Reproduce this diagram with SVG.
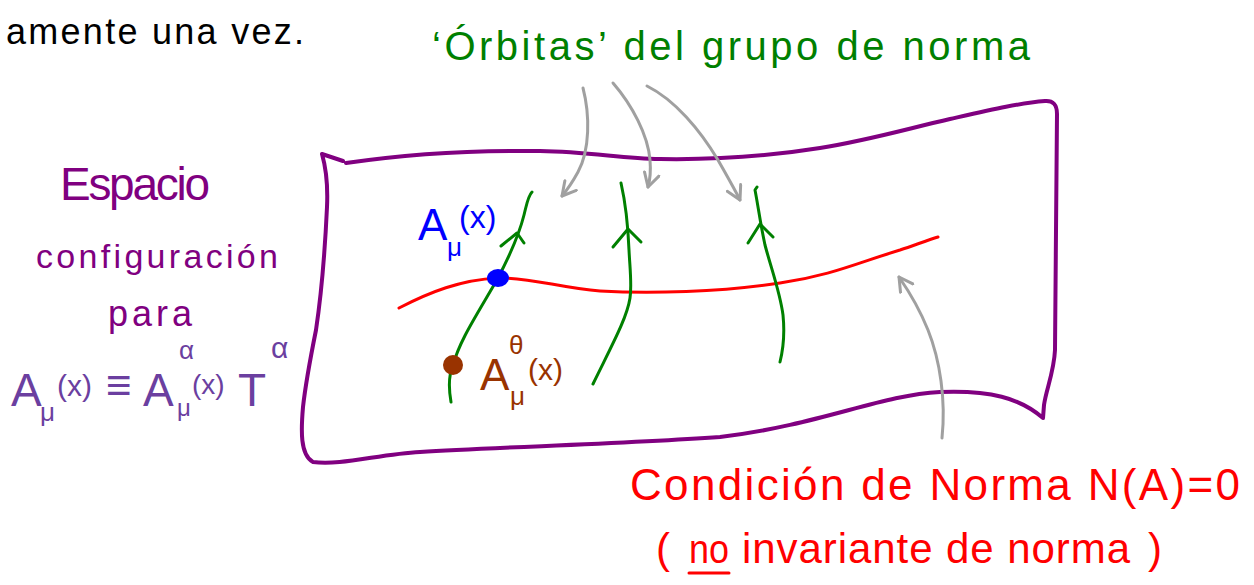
<svg xmlns="http://www.w3.org/2000/svg" width="1254" height="585" viewBox="0 0 1254 585">
<style>
text{font-family:"Liberation Sans","DejaVu Sans",sans-serif;}
.pur{fill:#800080;}
.frm{fill:#6b3fa0;}
.grn{fill:#008000;}
.red{fill:#ff0000;}
.blu{fill:#0000ff;}
.brn{fill:#993300;}
.box{fill:none;stroke:#800080;stroke-width:4;stroke-linecap:round;stroke-linejoin:round;}
.orb{fill:none;stroke:#008000;stroke-width:3;stroke-linecap:round;stroke-linejoin:round;}
.gauge{fill:none;stroke:#ff0000;stroke-width:3;stroke-linecap:round;}
.gray{fill:none;stroke:#a0a0a0;stroke-width:3;stroke-linecap:round;}
</style>
<defs>
<marker id="ga" viewBox="0 0 12 12" refX="10" refY="6" markerWidth="18" markerHeight="18" markerUnits="userSpaceOnUse" orient="auto">
<path d="M1,1 L10,6 L1,11" fill="none" stroke="#a0a0a0" stroke-width="2" stroke-linecap="round" stroke-linejoin="round"/>
</marker>
</defs>
<rect width="1254" height="585" fill="#ffffff"/>

<g id="top-note">
<text x="6" y="44" font-size="36" fill="#000" textLength="298" lengthAdjust="spacing">amente una vez.</text>
</g>

<g id="config-space">
<path class="box" d="M322,154 L343,161 M346,163 C400,155 460,150 540,151 C590,152 620,158 660,159 C720,160 770,156 820,148 C870,140 910,128 950,119 C990,110 1020,103 1045,101 Q1057,100 1057,114 L1055,350 C1054,372 1046,390 1044,405 L1043,418 C1020,398 990,390 940,392 C880,395 820,425 720,437 C620,444 500,447 420,452 C380,454 340,466 313,462 C300,455 301,430 303,407 C306,380 312,350 316,330 C322,290 325,250 327,207 C328,185 326,168 322,154"/>
</g>

<g id="config-label">
<text class="pur" x="60" y="200" font-size="46" textLength="150" lengthAdjust="spacing">Espacio</text>
<text class="pur" x="36" y="268" font-size="34" textLength="242" lengthAdjust="spacing">configuración</text>
<text class="pur" x="108" y="326" font-size="36" textLength="84" lengthAdjust="spacing">para</text>
</g>

<g id="formula">
<text class="frm" x="11" y="406" font-size="46">A</text>
<text class="frm" x="40" y="421" font-size="26">μ</text>
<text class="frm" x="57" y="396" font-size="30">(x)</text>
<text class="frm" x="106" y="400" font-size="44">≡</text>
<text class="frm" x="143" y="406" font-size="46">A</text>
<text class="frm" x="179" y="359" font-size="26">α</text>
<text class="frm" x="177" y="416" font-size="24">μ</text>
<text class="frm" x="192" y="394" font-size="28">(x)</text>
<text class="frm" x="238" y="406" font-size="46">T</text>
<text class="frm" x="271" y="358" font-size="30">α</text>
</g>

<g id="orbits-label">
<text class="grn" x="432" y="60" font-size="40" textLength="598" lengthAdjust="spacing">‘Órbitas’ del grupo de norma</text>
</g>

<g id="gauge-condition">
<path class="gauge" d="M399,308 C430,292 460,280 498,278 C530,277 560,288 600,291 C650,294 720,292 780,283 C830,276 860,262 900,250 C915,245 928,240 938,237"/>
</g>

<g id="orbit-1">
<path class="orb" d="M451,402 C448,385 450,372 453,365 C460,340 475,318 498,278 C510,255 519,235 524,215 C527,203 528,196 532,192"/>
<path class="orb" d="M501,246 L517,233 L524,243" stroke-width="3.5"/>
</g>
<g id="orbit-2">
<path class="orb" d="M621,183 C626,205 628,225 629,250 C630,270 632,285 630,298 C627,318 612,345 593,384"/>
<path class="orb" d="M613,247 L628,229 L641,242" stroke-width="3.5"/>
</g>
<g id="orbit-3">
<path class="orb" d="M757,187 L755,190 C758,205 760,222 765,245 C771,268 780,292 783,315 C785,335 783,350 780,362"/>
<path class="orb" d="M748,243 L760,224 L773,237" stroke-width="3.5"/>
</g>

<g id="point-A">
<ellipse cx="498" cy="278" rx="11" ry="9" fill="#0000ff"/>
<text class="blu" x="418" y="240" font-size="44">A</text>
<text class="blu" x="447" y="256" font-size="26">μ</text>
<text class="blu" x="459" y="228" font-size="32">(x)</text>
</g>

<g id="point-Atheta">
<circle cx="453" cy="365" r="10" fill="#993300"/>
<text class="brn" x="480" y="390" font-size="44">A</text>
<text class="brn" x="509" y="354" font-size="26">θ</text>
<text class="brn" x="510" y="405" font-size="26">μ</text>
<text class="brn" x="528" y="380" font-size="30">(x)</text>
</g>

<g id="condition-label">
<text class="red" x="630" y="500" font-size="44" textLength="610" lengthAdjust="spacing">Condición de Norma N(A)=0</text>
<text class="red" x="656" y="563" font-size="42">(</text>
<text class="red" x="689" y="563" font-size="40" textLength="40" lengthAdjust="spacingAndGlyphs">no</text>
<line x1="689" y1="573" x2="729" y2="573" stroke="#ff0000" stroke-width="3" stroke-linecap="round"/>
<text class="red" x="742" y="563" font-size="42" textLength="388" lengthAdjust="spacing">invariante de norma</text>
<text class="red" x="1148" y="563" font-size="42">)</text>
</g>

<g id="connectors">
<path class="gray" marker-end="url(#ga)" d="M583,88 C590,115 590,150 578,172 C572,183 567,190 562,196"/>
<path class="gray" marker-end="url(#ga)" d="M613,83 C632,105 648,135 650,160 C651,172 650,180 648,187"/>
<path class="gray" marker-end="url(#ga)" d="M647,86 C675,100 700,130 718,160 C727,176 734,188 740,200"/>
<path class="gray" marker-end="url(#ga)" d="M942,438 C946,400 940,360 928,330 C918,305 908,290 899,277"/>
</g>
</svg>
